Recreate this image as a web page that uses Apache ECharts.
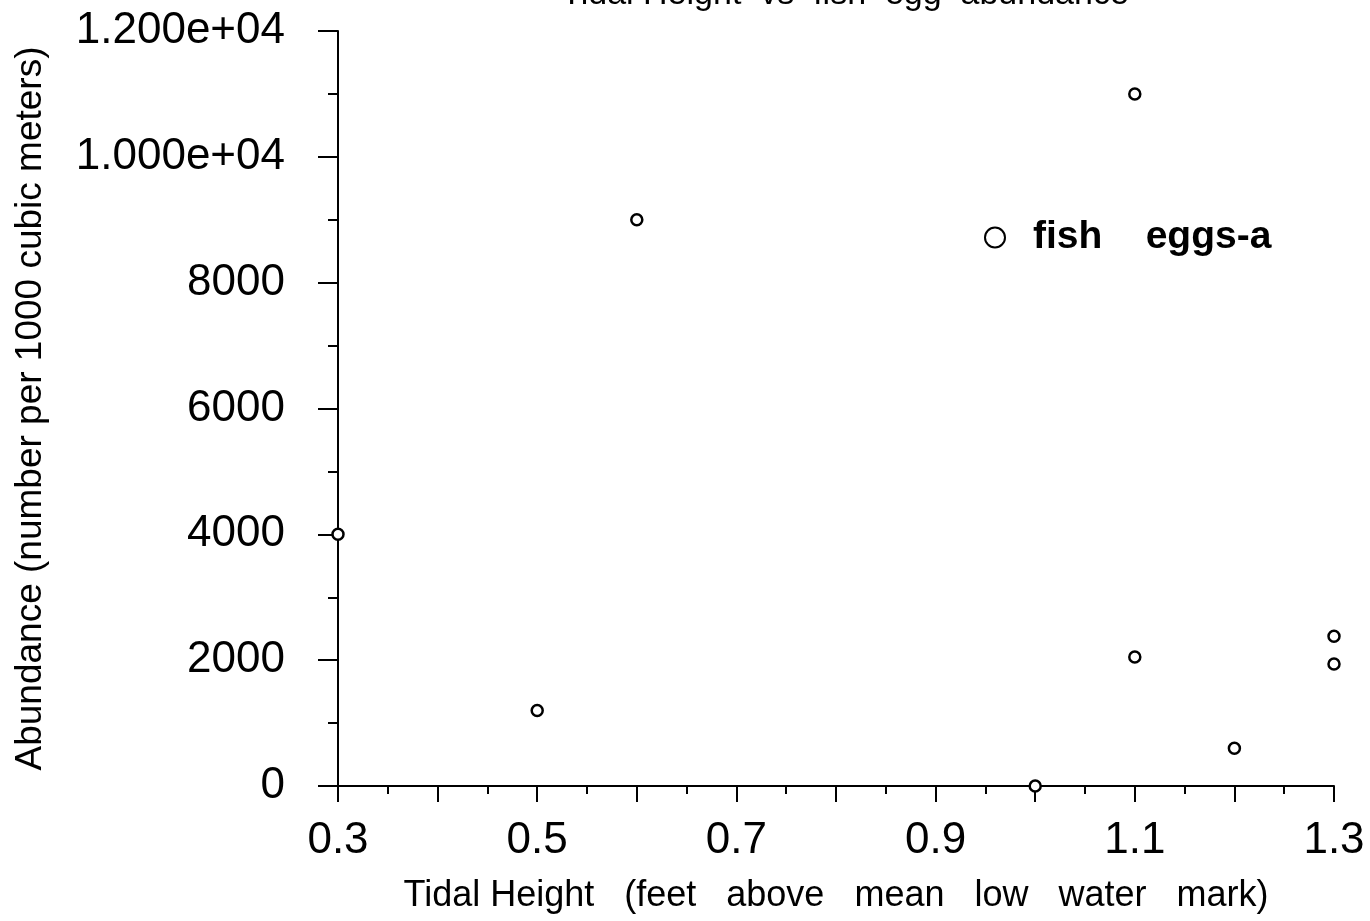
<!DOCTYPE html>
<html>
<head>
    <meta charset="utf-8">
    <script src="https://cdn.jsdelivr.net/npm/echarts@6/dist/echarts.min.js"></script>
    <style>
        html, body { margin: 0; padding: 0; background: #fff; }
    </style>
</head>
<body>
    <div id="main" style="width: 1370px;height:921px;"></div>
    <script>
        // data
        var tidalHeight = [0.3, 0.5, 0.6, 1.0, 1.1, 1.1, 1.2, 1.3, 1.3];
        var eggAbundance = [4000, 1200, 9000, 0, 11000, 2050, 600, 2380, 1940];
        var xTicks = [0.3, 1.3, 0.1];      // min, max, step
        var yTicks = [0, 12000, 2000];

        var points = tidalHeight.map(function (h, i) {
            return [h, eggAbundance[i]];
        });

        var font = '"Liberation Sans", Arial, Helvetica, sans-serif';
        var myChart = echarts.init(document.getElementById('main'));

        var option = {
            backgroundColor: '#fff',
            animation: false,
            title: {
                text: 'Tidal Height  vs  fish  egg  abundance',
                left: 840,
                textAlign: 'center',
                top: -27,
                textStyle: { fontFamily: font, fontSize: 34, fontWeight: 'normal', color: '#000' }
            },
            legend: {
                left: 979,
                top: 213,
                icon: 'circle',
                itemWidth: 20,
                itemHeight: 20,
                itemGap: 0,
                itemStyle: { color: '#fff', borderColor: '#000', borderWidth: 2 },
                textStyle: { fontFamily: font, fontSize: 39, fontWeight: 'bold', color: '#000', padding: [0, 0, 0, 23] },
                data: ['fish    eggs-a']
            },
            grid: {
                left: 338,
                right: 36,
                top: 31,
                bottom: 135,
                outerBoundsMode: 'none'
            },
            xAxis: {
                type: 'value',
                min: xTicks[0],
                max: xTicks[1],
                interval: xTicks[2],
                name: 'Tidal Height   (feet   above   mean   low   water   mark)',
                nameLocation: 'middle',
                nameGap: 92,
                nameTextStyle: { fontFamily: font, fontSize: 36, color: '#000' },
                axisLine: { show: true, lineStyle: { color: '#000', width: 2 } },
                axisTick: { show: true, length: 16, lineStyle: { color: '#000', width: 2 } },
                minorTick: { show: true, splitNumber: 2, length: 8, lineStyle: { color: '#000', width: 2 } },
                splitLine: { show: false },
                axisLabel: {
                    margin: 33,
                    fontFamily: font,
                    fontSize: 44,
                    color: '#000',
                    formatter: function (v) {
                        // label every other tick: 0.3, 0.5 ...
                        return Math.round(v * 10) % 2 === 1 ? v.toFixed(1) : '';
                    }
                }
            },
            yAxis: {
                type: 'value',
                min: yTicks[0],
                max: yTicks[1],
                interval: yTicks[2],
                name: 'Abundance (number per 1000 cubic meters)',
                nameLocation: 'middle',
                nameGap: 289,
                nameTextStyle: { fontFamily: font, fontSize: 37, color: '#000' },
                axisLine: { show: true, lineStyle: { color: '#000', width: 2 } },
                axisTick: { show: true, length: 20, lineStyle: { color: '#000', width: 2 } },
                minorTick: { show: true, splitNumber: 2, length: 10, lineStyle: { color: '#000', width: 2 } },
                splitLine: { show: false },
                axisLabel: {
                    margin: 53,
                    fontFamily: font,
                    fontSize: 44,
                    color: '#000',
                    formatter: function (v) {
                        if (v >= 10000) {
                            return v.toExponential(3).replace(/e\+(\d)$/, 'e+0$1');
                        }
                        return String(v);
                    }
                }
            },
            series: [{
                name: 'fish    eggs-a',
                type: 'scatter',
                symbol: 'circle',
                symbolSize: 11,
                itemStyle: { color: '#fff', borderColor: '#000', borderWidth: 2.5, opacity: 1 },
                data: points
            }]
        };
        myChart.setOption(option);
    </script>
</body>
</html>
